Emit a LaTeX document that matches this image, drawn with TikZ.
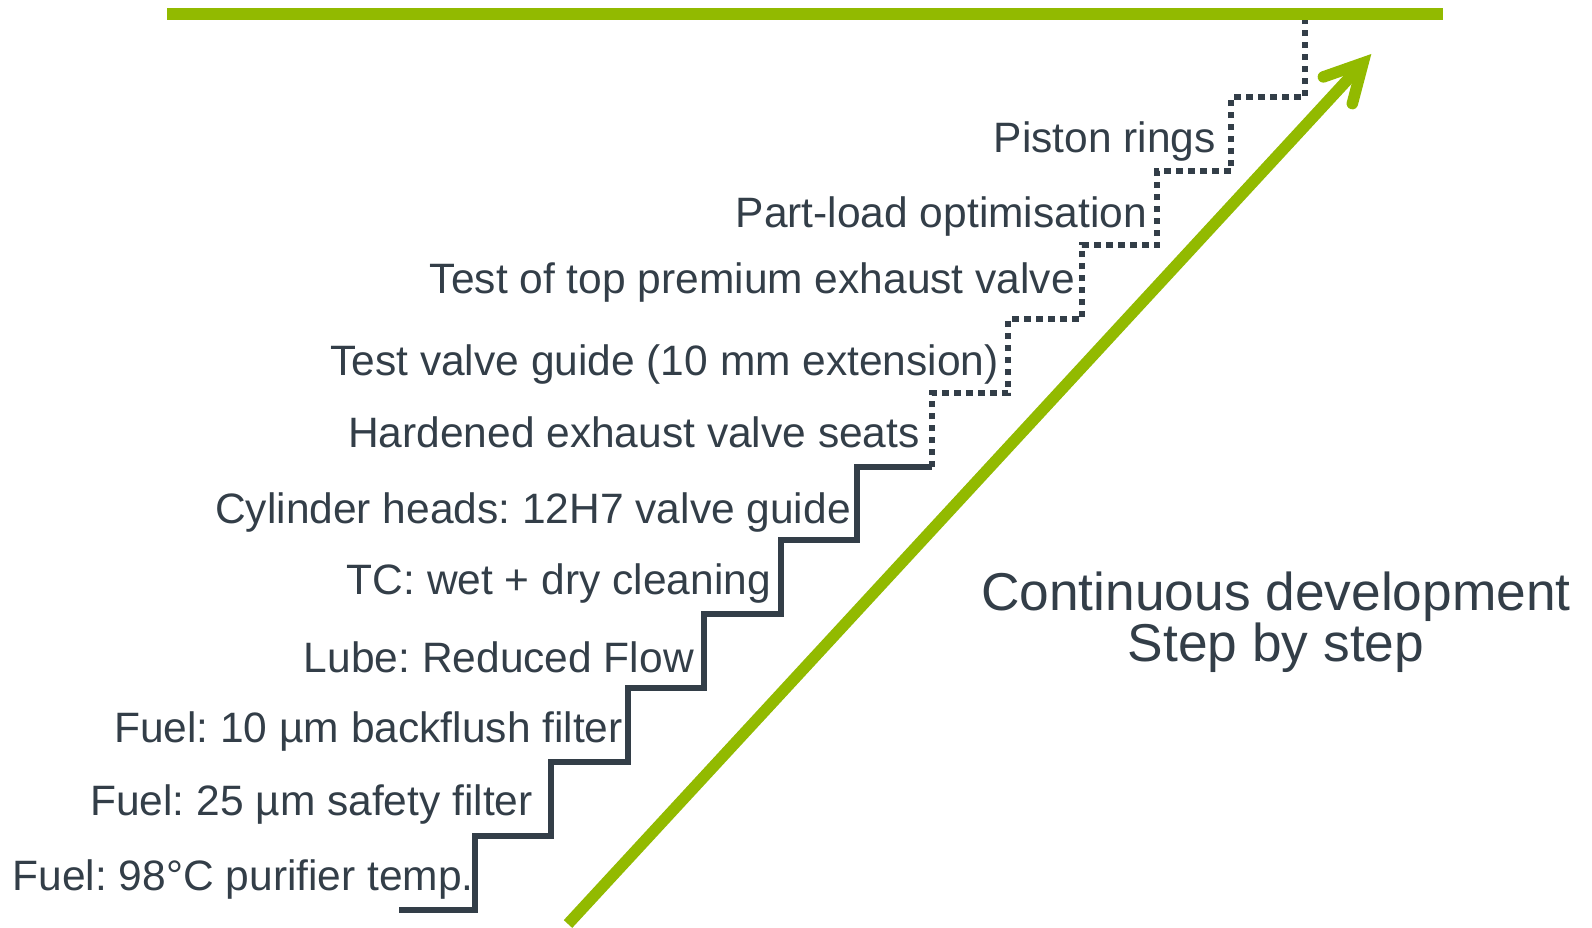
\documentclass[tikz,border=0pt]{standalone}
\usepackage{fontspec}
\setmainfont{Liberation Sans}
\frenchspacing
\definecolor{slate}{RGB}{51,62,72}
\definecolor{leaf}{RGB}{146,186,0}

\begin{document}
\begin{tikzpicture}[x=1pt,y=-1pt,
  lbl/.style={anchor=base east, inner sep=0pt, text=slate, font=\fontsize{42.5}{50}\selectfont},
  bigtxt/.style={anchor=base, inner sep=0pt, text=slate, align=center, font=\fontsize{53.3}{45}\selectfont},
  stairsolid/.style={draw=slate, line width=5.5pt, line join=miter},
  stairdots/.style={draw=slate, line width=5.5pt, dash pattern=on 6.5pt off 5.5pt},
  greenbar/.style={draw=leaf, line width=11.5pt},
  barbs/.style={draw=leaf, line width=11.5pt, line cap=round, line join=miter}]
\useasboundingbox (0,0) rectangle (1592,927);

% goal line at the top
\coordinate (goalL) at (167,14);
\coordinate (goalR) at (1443,14);
\draw[greenbar] (goalL) -- (goalR);

% rising arrow
\coordinate (arrS) at (568,924);
\coordinate (arrV) at (1363,63);
\coordinate (barbA) at (1323.4,76.9);
\coordinate (barbB) at (1352.3,103.6);
\draw[greenbar] (arrS) -- (arrV);
\draw[barbs] (barbA) -- (arrV) -- (barbB);

% completed steps
\draw[stairsolid] (399,910) -- (475,910) -- (475,836) -- (551,836) -- (551,762)
  -- (628,762) -- (628,688) -- (704,688) -- (704,614) -- (781,614) -- (781,540)
  -- (857,540) -- (857,467) -- (932,467);
% planned steps
\draw[stairdots] (932,467) -- (932,393) -- (1008,393) -- (1008,319) -- (1082,319)
  -- (1082,245) -- (1157,245) -- (1157,171) -- (1231,171) -- (1231,97)
  -- (1305,97) -- (1305,20);

% step labels
\node[lbl] (l1)  at (474,890)  {Fuel: 98°C purifier temp.};
\node[lbl] (l2)  at (533,815)  {Fuel: 25 µm safety filter};
\node[lbl] (l3)  at (623,742)  {Fuel: 10 µm backflush filter};
\node[lbl] (l4)  at (694,672)  {Lube: Reduced Flow};
\node[lbl] (l5)  at (771,594)  {TC: wet + dry cleaning};
\node[lbl] (l6)  at (851,523)  {Cylinder heads: 12H7 valve guide};
\node[lbl] (l7)  at (920,447)  {Hardened exhaust valve seats};
\node[lbl] (l8)  at (999,375)  {Test valve guide (10 mm extension)};
\node[lbl] (l9)  at (1075,293) {Test of top premium exhaust valve};
\node[lbl] (l10) at (1147,227) {Part-load optimisation};
\node[lbl] (l11) at (1216,152) {Piston rings};

% headline (anchored on the baseline of its last line)
\node[bigtxt] (head) at (1276,661) {Continuous development\\Step by step};
\end{tikzpicture}
\end{document}
